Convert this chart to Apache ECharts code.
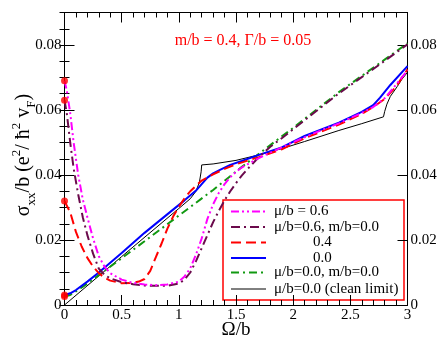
<!DOCTYPE html>
<html><head><meta charset="utf-8">
<script src="https://cdn.jsdelivr.net/npm/echarts@6/dist/echarts.min.js"></script>
<style>html,body{margin:0;padding:0;background:#fff}#c{width:443px;height:346px}</style>
</head><body><div id="c"></div>
<script>
// ---- data ----
const omegaMu06 = [0,0.02,0.05,0.08,0.12,0.16,0.2,0.25,0.3,0.35,0.4,0.5,0.6,0.7,0.8,0.9,1.0,1.05,1.1,1.15,1.2,1.25,1.3,1.35,1.4,1.45,1.5,1.55,1.6,1.7,1.8,1.9,2.0,2.2,2.4,2.6,2.7,2.8,2.9,3.0];
const sigmaMu06 = [0.069,0.066,0.059,0.050,0.040,0.0325,0.027,0.0205,0.015,0.0118,0.0098,0.0078,0.0068,0.0063,0.0061,0.0063,0.0072,0.0088,0.0113,0.0155,0.0205,0.0265,0.031,0.0345,0.0372,0.0393,0.041,0.0423,0.0433,0.0452,0.0469,0.0485,0.0501,0.0531,0.0559,0.0591,0.0609,0.0636,0.0678,0.0722];

const omegaMu06m0 = [0,0.02,0.05,0.08,0.12,0.16,0.2,0.25,0.3,0.35,0.4,0.5,0.6,0.7,0.8,0.9,1.0,1.05,1.1,1.15,1.2,1.25,1.3,1.35,1.4,1.45,1.5,1.55,1.6,1.7,1.8,1.9,2.0,2.2,2.4,2.6,2.8,3.0];
const sigmaMu06m0 = [0.063,0.059,0.050,0.042,0.034,0.027,0.0215,0.0158,0.0112,0.0093,0.0082,0.0070,0.0064,0.0060,0.0059,0.0059,0.0066,0.0078,0.0100,0.0135,0.0175,0.0215,0.0255,0.029,0.0322,0.035,0.0375,0.0398,0.0418,0.0455,0.0487,0.0513,0.0541,0.0596,0.0651,0.0701,0.0751,0.0802];

const omegaMu04 = [0,0.05,0.1,0.15,0.2,0.25,0.3,0.35,0.4,0.5,0.6,0.65,0.7,0.75,0.8,0.85,0.9,0.95,1.0,1.05,1.1,1.2,1.3,1.4,1.5,1.7,1.9,2.1,2.4,2.6,2.7,2.8,2.9,3.0];
const sigmaMu04 = [0.032,0.0285,0.0225,0.018,0.0145,0.0118,0.0098,0.0084,0.0075,0.0067,0.0068,0.0072,0.008,0.0105,0.0148,0.019,0.0235,0.0272,0.0302,0.0328,0.035,0.0383,0.0402,0.0419,0.0433,0.0455,0.0479,0.0513,0.0555,0.0588,0.0609,0.0634,0.0672,0.0725];

const omegaMu00 = [0,0.05,0.1,0.2,0.3,0.5,0.7,0.92,1.05,1.15,1.2,1.25,1.3,1.36,1.45,1.55,1.7,1.9,2.1,2.4,2.6,2.7,2.76,2.85,3.0];
const sigmaMu00 = [0.0031,0.0036,0.0046,0.0072,0.0100,0.0160,0.0222,0.0285,0.0322,0.0352,0.0372,0.0392,0.0405,0.0416,0.0431,0.0443,0.0462,0.0485,0.0520,0.0561,0.0594,0.0615,0.0638,0.0677,0.0735];

const omegaMu00m0 = [0,0.05,0.1,0.2,0.3,0.5,0.7,0.95,1.3,1.54,1.8,2.0,2.4,2.8,3.0];
const sigmaMu00m0 = [0.0026,0.0031,0.0042,0.0066,0.0092,0.0144,0.0196,0.0262,0.0354,0.0422,0.0492,0.0545,0.0655,0.0755,0.0805];

const omegaClean = [0,0.5,1.0,1.1,1.15,1.18,1.195,1.2,1.3,1.5,1.7,1.9,2.1,2.4,2.6,2.79,2.8,2.82,2.85,2.91,2.95,3.0];
const sigmaClean = [0,0.0149,0.0297,0.0327,0.0350,0.0378,0.041,0.0431,0.0434,0.0445,0.0462,0.0481,0.0503,0.0537,0.0558,0.0579,0.0595,0.0618,0.0642,0.0672,0.0694,0.0716];

const legendLabels = ['μ/b = 0.6','μ/b=0.6, m/b=0.0','0.4','0.0','μ/b=0.0, m/b=0.0','μ/b=0.0 (clean limit)'];
const xTicks = [0,0.5,1,1.5,2,2.5,3];
const yTickLabels = ['0','0.02','0.04','0.06','0.08'];
const annotation = 'm/b = 0.4, Γ/b = 0.05';

// ---- styles ----
const FONT = "'Liberation Serif','Times New Roman',serif";
const styles = [
  {color:'#ff00ff', width:2, dash:[8,3,2,3,2,3]},
  {color:'#6b0a4c', width:2, dash:[9,4,2,4]},
  {color:'#ff0000', width:2, dash:[10,5]},
  {color:'#0000ff', width:2, dash:'solid'},
  {color:'#119911', width:2, dash:[8,4,2,4]},
  {color:'#000000', width:1, dash:'solid'}
];
const xs = [omegaMu06, omegaMu06m0, omegaMu04, omegaMu00, omegaMu00m0, omegaClean];
const ys = [sigmaMu06, sigmaMu06m0, sigmaMu04, sigmaMu00, sigmaMu00m0, sigmaClean];
const zip = (a,b) => a.map((v,i)=>[v,b[i]]);

const series = xs.map((x,i)=>({
  type:'line', name:legendLabels[i], data:zip(x,ys[i]), xAxisIndex:0, yAxisIndex:0,
  showSymbol:false, symbol:'none', smooth:false, z: 10 - i,
  lineStyle:{color:styles[i].color, width:styles[i].width, type:styles[i].dash}
}));
// red markers at Ω = 0 (starting values)
series.push({
  type:'scatter', xAxisIndex:0, yAxisIndex:0, symbolSize:7, z:20,
  itemStyle:{color:'#ff0000'},
  data:[0,1,2,3,4].map(i=>[xs[i][0], ys[i][0]])
});

const axisLine = {show:true, onZero:false, lineStyle:{color:'#000', width:1}};
const yLabelFmt = v => { const k = Math.round(v/0.02); return (Math.abs(v - k*0.02) < 1e-9 && k < yTickLabels.length) ? yTickLabels[k] : ''; };
const xAxisBase = {type:'value', min:0, max:3, interval:0.5, axisLine,
  axisTick:{show:true, inside:true, length:10, lineStyle:{color:'#000'}},
  minorTick:{show:true, splitNumber:5, length:5, lineStyle:{color:'#000'}},
  splitLine:{show:false}, minorSplitLine:{show:false}};
const yMajor = pos => ({type:'value', min:0, max:0.09, interval:0.02, position:pos, axisLine,
  axisTick:{show:true, inside:true, length:10, lineStyle:{color:'#000'}},
  splitLine:{show:false},
  axisLabel:{show:true, color:'#000', fontSize:15, fontFamily:FONT, margin:3, formatter:yLabelFmt}});
const yMinor = pos => ({type:'value', min:0, max:0.09, interval:0.005, position:pos,
  axisLine:{show:false}, axisTick:{show:true, inside:true, length:5, lineStyle:{color:'#000'}},
  splitLine:{show:false}, axisLabel:{show:false}});

const rowY = [211.5, 227, 242.5, 258, 272.5, 289];
const legendEls = [{type:'rect', shape:{x:223, y:200, width:181, height:100},
  style:{fill:'#fff', stroke:'#ff0000', lineWidth:1.5}}];
legendLabels.forEach((lab,i)=>{
  legendEls.push({type:'line', shape:{x1:231, y1:rowY[i], x2:266, y2:rowY[i]},
    style:{stroke:styles[i].color, lineWidth:styles[i].width, lineDash: styles[i].dash==='solid'?null:styles[i].dash}});
  legendEls.push({type:'text', x:(lab==='0.4'||lab==='0.0')?313:274, y:rowY[i],
    style:{text:lab, fill:'#000', font:'15px '+FONT, textVerticalAlign:'middle', textAlign:'left'}});
});

const option = {
  animation:false,
  backgroundColor:'#fff',
  grid:{left:64.5, right:35.5, top:12.5, bottom:41, containLabel:false},
  xAxis:[
    Object.assign({}, xAxisBase, {position:'bottom',
      axisLabel:{show:true, color:'#000', fontSize:15, fontFamily:FONT, margin:3,
        formatter:v=>{const k=xTicks.findIndex(t=>Math.abs(t-v)<1e-9); return k>=0?String(xTicks[k]):'';}}}),
    Object.assign({}, xAxisBase, {position:'top', axisLabel:{show:false}})
  ],
  yAxis:[yMajor('left'), yMinor('left'), yMajor('right'), yMinor('right')],
  series,
  graphic:[
    {type:'text', x:243, y:41, z:50,
      style:{text:annotation, fill:'#ff0000', font:'16px '+FONT, textAlign:'center', textVerticalAlign:'middle'}},
    {type:'text', x:236, y:330, z:50,
      style:{text:'Ω/b', fill:'#000', font:'19px '+FONT, textAlign:'center', textVerticalAlign:'middle'}},
    {type:'text', x:24, y:155, rotation:Math.PI/2, z:50,
      style:{text:'{m|σ}{s|xx}{m|/b (e}{p|2}{m|/ ħ}{p|2}{m| v}{s|F}{m|)}', textAlign:'center', textVerticalAlign:'middle',
        rich:{
          m:{fontSize:20, fontFamily:FONT, fill:'#000', lineHeight:28, verticalAlign:'middle'},
          s:{fontSize:13, fontFamily:FONT, fill:'#000', lineHeight:13, verticalAlign:'bottom'},
          p:{fontSize:13, fontFamily:FONT, fill:'#000', lineHeight:13, verticalAlign:'top'}
        }}},
    {type:'group', z:60, children:legendEls}
  ]
};
echarts.init(document.getElementById('c'), null, {renderer:'canvas'}).setOption(option);
</script></body></html>
